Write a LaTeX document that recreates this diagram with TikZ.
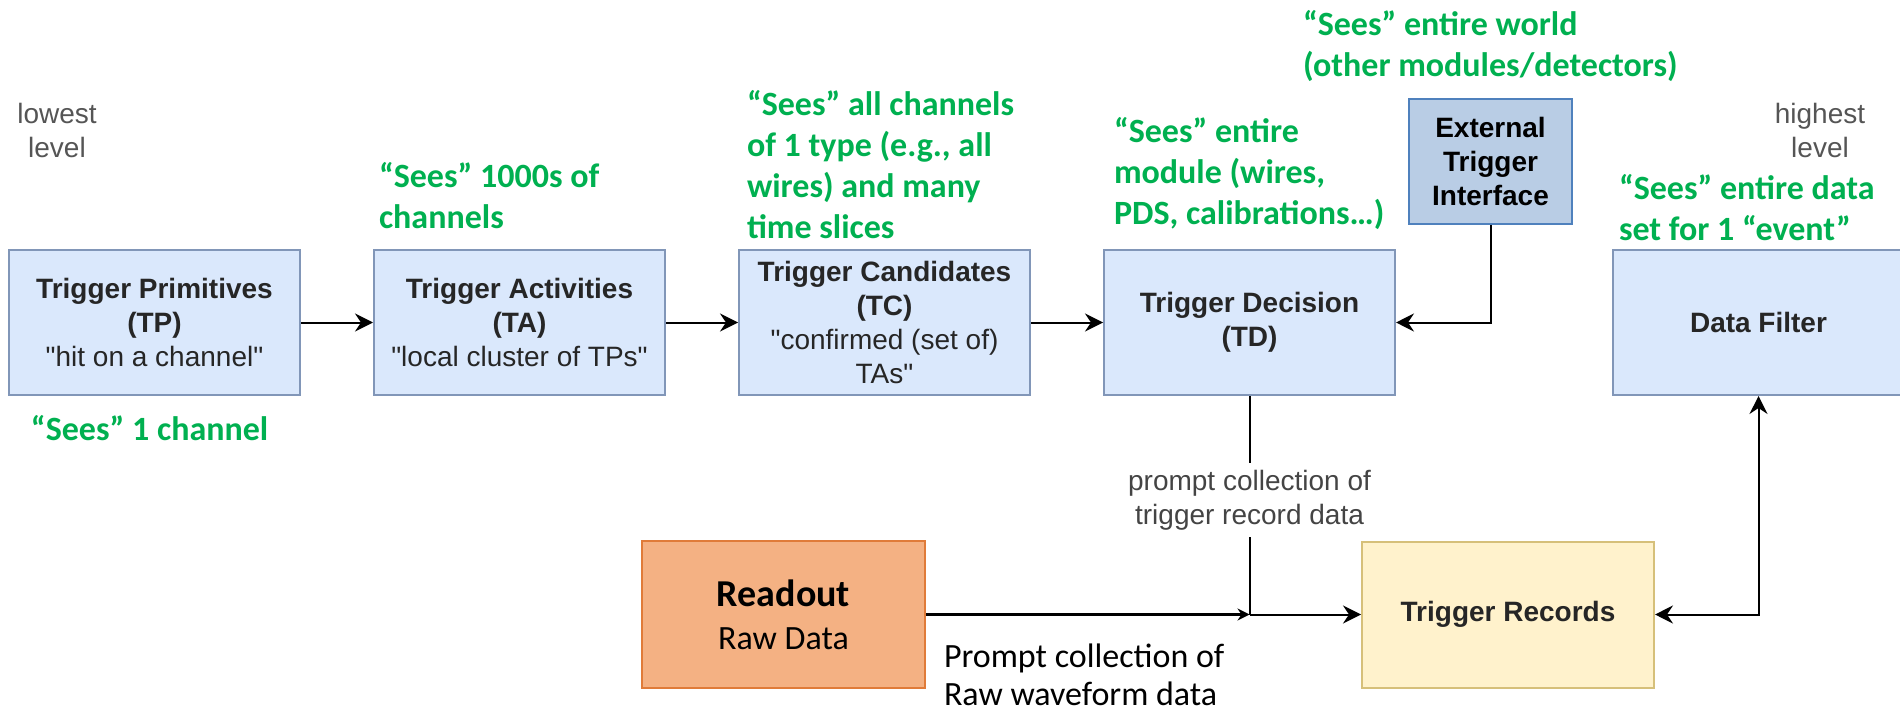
\documentclass[tikz,border=0pt]{standalone}
\usepackage{fontspec}
\setmainfont{Liberation Sans}
\newfontfamily\calibri{Carlito}
\usetikzlibrary{arrows.meta,positioning}
\definecolor{boxblue}{HTML}{DAE8FC}
\definecolor{edgeblue}{HTML}{8196B8}
\definecolor{etiblue}{HTML}{B9CDE5}
\definecolor{etiedge}{HTML}{4F81BD}
\definecolor{readorange}{HTML}{F4B183}
\definecolor{readedge}{HTML}{E07B39}
\definecolor{recyellow}{HTML}{FFF2CC}
\definecolor{recedge}{HTML}{D6C07A}
\definecolor{seegreen}{HTML}{00B050}
\definecolor{lvlgray}{HTML}{555555}
\definecolor{txtdark}{HTML}{262626}
\newcommand{\qq}{\textquotedbl}

\begin{document}
\begin{tikzpicture}[x=0.5pt,y=-0.5pt,node distance=36pt,line width=1pt,>={Stealth[length=9pt,width=9pt,inset=3pt]},every node/.append style={align=center},
stage/.style={draw=edgeblue,fill=boxblue,line width=1pt,minimum width=145.5pt,minimum height=72.5pt,inner sep=2pt,font=\fontsize{14}{17}\selectfont,text=txtdark},
sees/.style={text=seegreen,font=\calibri\bfseries\fontsize{17}{20.5}\selectfont,align=left,inner sep=0pt,anchor=north west},
lvl/.style={text=lvlgray,font=\fontsize{14}{17}\selectfont,inner sep=0pt},]
    \useasboundingbox (0,0) rectangle (1900,711);
    % trigger chain
    \node [stage] at (154.5,322.5) (TP)  {\textbf{Trigger Primitives}\\\textbf{(TP)}\\\qq hit on a channel\qq};
    \node [stage, right=of TP] (TA)      {\textbf{Trigger Activities}\\\textbf{(TA)}\\\qq local cluster of TPs\qq};
    \node [stage, right=of TA] (TC)      {\textbf{Trigger Candidates}\\\textbf{(TC)}\\\qq confirmed (set of)\\TAs\qq};
    \node [stage, right=of TC] (TD)      {\textbf{Trigger Decision}\\\textbf{(TD)}};
    \node [stage, right=108pt of TD] (DF) {\textbf{Data Filter}};
    \node [stage, fill=etiblue, draw=etiedge, minimum width=81.5pt, minimum height=62.5pt, text=black] at (1490.5,161.5) (ETI) {\textbf{External}\\\textbf{Trigger}\\\textbf{Interface}};
    \node [stage, fill=readorange, draw=readedge, minimum width=141.5pt, minimum height=73.5pt, text=black, font=\calibri\fontsize{17}{21.5}\selectfont] at (783.5,614.5) (RO) {{\bfseries\fontsize{19}{21.5}\selectfont Readout}\\Raw Data};
    \node [stage, fill=recyellow, draw=recedge, minimum width=146pt, minimum height=73pt] at (1508,614.5) (TR) {\textbf{Trigger Records}};

    \path[->] (TP) edge (TA);
    \path[->] (TA) edge (TC);
    \path[->] (TC) edge (TD);
    \draw[->] (ETI.south) |- (TD.east);

    % record building
    \coordinate (join) at (TD.south |- RO.east);
    \node [lvl, text=lvlgray!80!black, inner sep=3pt] at (TD.south |- 0,500) (prompt) {prompt collection of\\trigger record data};
    \draw (TD.south) -- (prompt.north);
    \draw (prompt.south) -- (join);
    \draw[-{Stealth[length=6pt,width=6pt,inset=2pt]}, line width=1.7pt] (RO.east) -- (join);
    \draw[->] (join) -- (TR.west);
    \draw[<->] (TR.east) -| (DF.south);
    \node [sees, text=black, font=\calibri\fontsize{17}{19}\selectfont] at (943,643) (rawcap) {Prompt collection of\\Raw waveform data};

    % levels
    \node [lvl] at (57,130) (lowest)     {lowest\\level};
    \node [lvl] at (1820,130.5) (highest) {highest\\level};

    % what each stage sees
    \node [sees] at (30,414) (seesTP)    {“Sees” 1 channel};
    \node [sees] at (378,161) (seesTA)   {“Sees” 1000s of\\channels};
    \node [sees] at (746,89) (seesTC)    {“Sees” all channels\\of 1 type (e.g., all\\wires) and many\\time slices};
    \node [sees] at (1113,116) (seesTD)  {“Sees” entire\\module (wires,\\PDS, calibrations…)};
    \node [sees] at (1302,9) (seesETI)   {“Sees” entire world\\(other modules/detectors)};
    \node [sees] at (1618,173) (seesDF)  {“Sees” entire data\\set for 1 “event”};
\end{tikzpicture}
\end{document}
